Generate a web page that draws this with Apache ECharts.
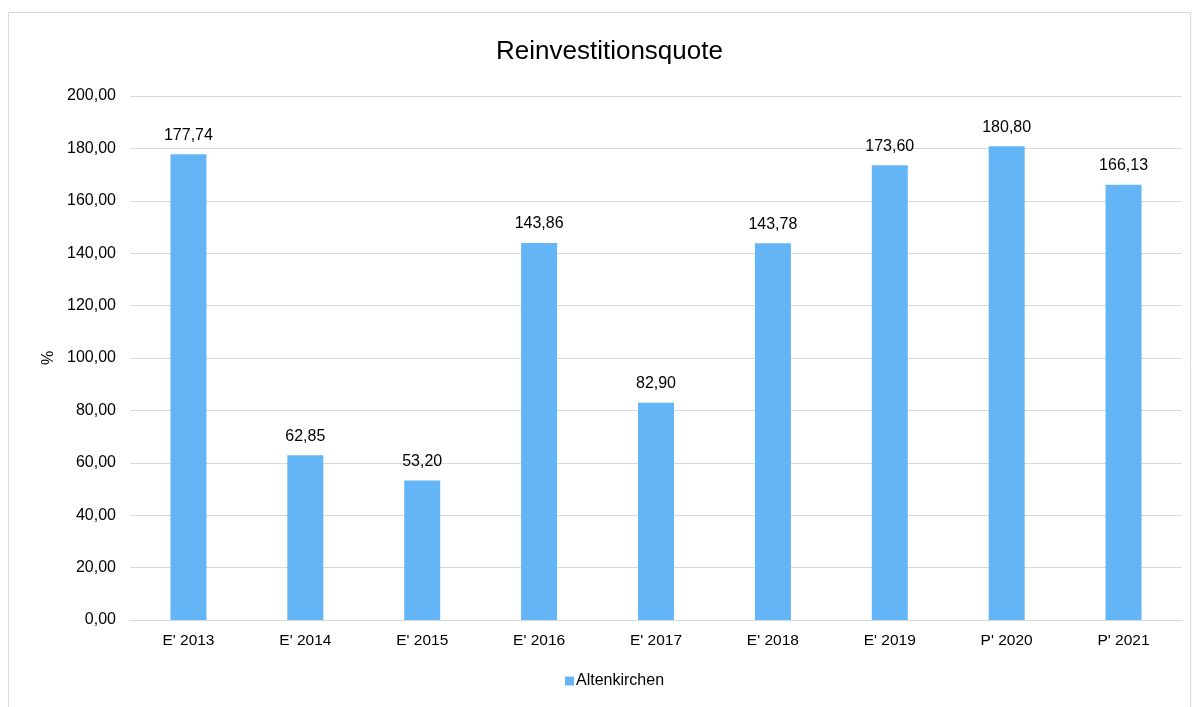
<!DOCTYPE html>
<html>
<head>
<meta charset="utf-8">
<script src="https://cdn.jsdelivr.net/npm/echarts@6/dist/echarts.min.js"></script>
<style>
  html, body { margin: 0; padding: 0; background: #fff; }
  #chart { width: 1198px; height: 707px; }
</style>
</head>
<body>
<div id="chart"></div>
<script>
// values
var categories = ["E' 2013", "E' 2014", "E' 2015", "E' 2016", "E' 2017", "E' 2018", "E' 2019", "P' 2020", "P' 2021"];
var altenkirchen = [177.74, 62.85, 53.20, 143.86, 82.90, 143.78, 173.60, 180.80, 166.13];

var fmt = function (v) { return Number(v).toFixed(2).replace('.', ','); };

var chart = echarts.init(document.getElementById('chart'));
chart.setOption({
    animation: false,
    textStyle: { fontFamily: 'Liberation Sans, Arial, sans-serif' },
    graphic: [{
        type: 'rect',
        shape: { x: 8.5, y: 12.5, width: 1182, height: 710 },
        style: { fill: 'none', stroke: '#d9d9d9', lineWidth: 1 },
        silent: true
    }],
    title: {
        text: 'Reinvestitionsquote',
        left: 491,
        top: 34,
        textStyle: { fontSize: 26, fontWeight: 'normal', color: '#000' }
    },
    legend: {
        bottom: 13,
        left: 560,
        icon: 'rect',
        itemWidth: 9,
        itemHeight: 9,
        itemGap: 4,
        textStyle: { fontSize: 16, color: '#000', padding: [0, 0, 0, -3] },
        data: ['Altenkirchen']
    },
    grid: { left: 130, right: 16, top: 96, bottom: 87 },
    xAxis: {
        type: 'category',
        data: categories,
        axisLine: { lineStyle: { color: '#d9d9d9', width: 1 } },
        axisTick: { show: false },
        axisLabel: { color: '#000', fontSize: 15.5, margin: 13 }
    },
    yAxis: {
        type: 'value',
        min: 0,
        max: 200,
        interval: 20,
        name: '%',
        nameLocation: 'middle',
        nameGap: 70,
        nameRotate: 90,
        nameTextStyle: { color: '#000', fontSize: 16 },
        axisLabel: { color: '#000', fontSize: 16, margin: 14, formatter: fmt },
        splitLine: { lineStyle: { color: '#d9d9d9', width: 1 } },
        axisLine: { show: false },
        axisTick: { show: false }
    },
    series: [{
        name: 'Altenkirchen',
        type: 'bar',
        data: altenkirchen,
        barWidth: 36,
        itemStyle: { color: '#64b5f6' },
        label: {
            show: true,
            position: 'top',
            distance: 11,
            color: '#000',
            fontSize: 16,
            formatter: function (p) { return fmt(p.value); }
        }
    }]
});
</script>
</body>
</html>
